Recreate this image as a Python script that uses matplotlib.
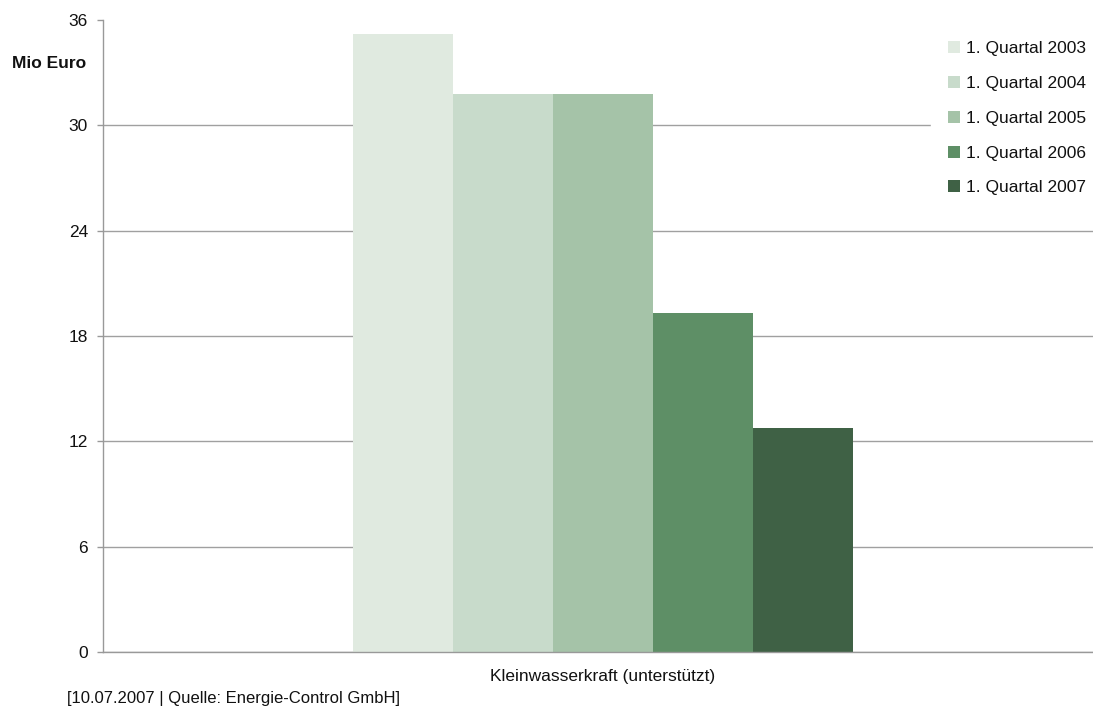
import matplotlib.pyplot as plt
import numpy as np

plt.rcParams['font.family'] = ['Liberation Sans', 'DejaVu Sans']

category = "Kleinwasserkraft (unterstützt)"
series = ["1. Quartal 2003", "1. Quartal 2004", "1. Quartal 2005",
          "1. Quartal 2006", "1. Quartal 2007"]
values = [35.2, 31.8, 31.8, 19.3, 12.75]
colors = ["#E0EAE0", "#C8DBCB", "#A5C3A8", "#5E8F66", "#3F6145"]
yticks = [0, 6, 12, 18, 24, 30, 36]

fig = plt.figure(figsize=(10.93, 7.08), dpi=100)
# plot area runs a little past the right edge of the picture
ax = fig.add_axes([103 / 1093, 56 / 708, 1000 / 1093, 632 / 708])

w = 0.1
offsets = (np.arange(len(series)) - 2) * w
for off, v, c, s in zip(offsets, values, colors, series):
    ax.bar(off, v, width=w, color=c, label=s, zorder=2)

ax.set_xlim(-0.5, 0.5)
ax.set_ylim(0, 36)
ax.set_yticks(yticks)
ax.set_xticks([0])
ax.set_xticklabels([category])
ax.tick_params(axis='x', length=0, pad=12, labelsize=12.5, labelcolor='#111111')
ax.tick_params(axis='y', length=4.3, width=1, color='#999999', labelsize=12.5,
               pad=6.5, labelcolor='#111111')
ax.yaxis.grid(True, color='#A0A0A0', linewidth=1, zorder=0)
ax.set_axisbelow(True)
# no grid line at the top value
ax.yaxis.get_gridlines()[-1].set_visible(False)

for side in ['top', 'right']:
    ax.spines[side].set_visible(False)
for side in ['left', 'bottom']:
    ax.spines[side].set_color('#999999')
    ax.spines[side].set_linewidth(1)

leg = ax.legend(loc='upper right', bbox_to_anchor=(1.0, 1.0 - 4 / 632),
                frameon=True, fontsize=12.5, handlelength=0.69,
                handleheight=0.69, handletextpad=0.3, labelspacing=1.13,
                borderpad=1.0, borderaxespad=0, fancybox=False,
                edgecolor='white', framealpha=1)
for t in leg.get_texts():
    t.set_color('#111111')
leg.set_zorder(5)

fig.text(12 / 1093, 1 - 63 / 708, "Mio Euro", fontsize=12.5, fontweight='bold',
         va='center', ha='left', color='#111111')
fig.text(67 / 1093, 1 - 698 / 708, "[10.07.2007 | Quelle: Energie-Control GmbH]",
         fontsize=12, va='center', ha='left', color='#111111')

fig.savefig("out.png", dpi=100)
